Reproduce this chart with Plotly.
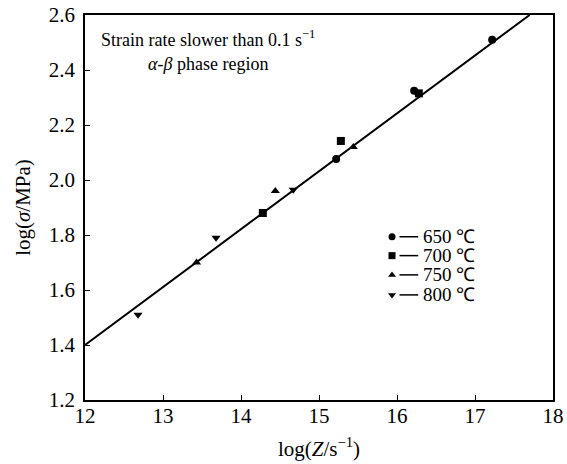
import plotly.graph_objects as go

# Data
x_650 = [15.22, 16.22, 17.22]
y_650 = [2.076, 2.325, 2.51]
x_700 = [14.28, 15.28, 16.28]
y_700 = [1.88, 2.142, 2.315]
x_750 = [13.43, 14.44, 15.44]
y_750 = [1.70, 1.96, 2.12]
x_800 = [12.68, 13.68, 14.67]
y_800 = [1.51, 1.79, 1.965]
fit_x = [12.0, 17.7]
fit_y = [1.4, 2.6]

labels = ["650 ℃", "700 ℃", "750 ℃", "800 ℃"]
symbols = ["circle", "square", "triangle-up", "triangle-down"]

FONT = "Liberation Serif"

fig = go.Figure()
fig.add_trace(go.Scatter(x=fit_x, y=fit_y, mode="lines",
                         line=dict(color="black", width=2), showlegend=False))
series = [(x_650, y_650), (x_700, y_700), (x_750, y_750), (x_800, y_800)]
for (xs, ys), sym in zip(series, symbols):
    fig.add_trace(go.Scatter(x=xs, y=ys, mode="markers",
                             marker=dict(symbol=sym, size=8, color="black"),
                             showlegend=False))

# custom legend on an overlay axis
leg_y = [0.424, 0.375, 0.325, 0.273]
for i, (lab, sym) in enumerate(zip(labels, symbols)):
    fig.add_trace(go.Scatter(x=[0.656], y=[leg_y[i]], mode="markers",
                             marker=dict(symbol=sym, size=7, color="black"),
                             xaxis="x2", yaxis="y2", showlegend=False))
    fig.add_trace(go.Scatter(x=[0.672, 0.712], y=[leg_y[i], leg_y[i]], mode="lines",
                             line=dict(color="black", width=1.5),
                             xaxis="x2", yaxis="y2", showlegend=False))
    fig.add_annotation(x=0.718, y=leg_y[i], xref="x2", yref="y2", text=lab,
                       showarrow=False, xanchor="left", yanchor="middle",
                       font=dict(family=FONT, size=19, color="black"))

fig.add_annotation(x=0.262, y=0.94, xref="paper", yref="paper",
                   text="Strain rate slower than 0.1 s<sup>−1</sup>",
                   showarrow=False, xanchor="center", yanchor="middle",
                   font=dict(family=FONT, size=18, color="black"))
fig.add_annotation(x=0.262, y=0.872, xref="paper", yref="paper",
                   text="<i>α</i>-<i>β</i> phase region",
                   showarrow=False, xanchor="center", yanchor="middle",
                   font=dict(family=FONT, size=18, color="black"))

axis_common = dict(showline=True, linecolor="black", linewidth=1.5, mirror=True,
                   ticks="inside", ticklen=5, tickwidth=1, tickcolor="black",
                   showgrid=False, zeroline=False, automargin=False,
                   tickfont=dict(family=FONT, size=21, color="black"))

fig.update_layout(
    width=567, height=464,
    margin=dict(l=85, r=14, t=15, b=64),
    paper_bgcolor="white", plot_bgcolor="white",
    xaxis=dict(range=[12, 18], tickmode="array", tickvals=[12, 13, 14, 15, 16, 17, 18],
               ticklabelstandoff=-4,
               title=dict(text="log(<i>Z</i>/s<sup>−1</sup>)", standoff=14,
                          font=dict(family=FONT, size=21, color="black")),
               **axis_common),
    yaxis=dict(range=[1.2, 2.6], tickmode="array",
               tickvals=[1.2, 1.4, 1.6, 1.8, 2.0, 2.2, 2.4, 2.6],
               ticktext=["1.2", "1.4", "1.6", "1.8", "2.0", "2.2", "2.4", "2.6"],
               ticklabelstandoff=4,
               title=dict(text="log(<i>σ</i>/MPa)", standoff=12,
                          font=dict(family=FONT, size=21, color="black")),
               **axis_common),
    xaxis2=dict(range=[0, 1], overlaying="x", visible=False, fixedrange=True),
    yaxis2=dict(range=[0, 1], overlaying="y", visible=False, fixedrange=True),
)

fig.write_html("out.html")
